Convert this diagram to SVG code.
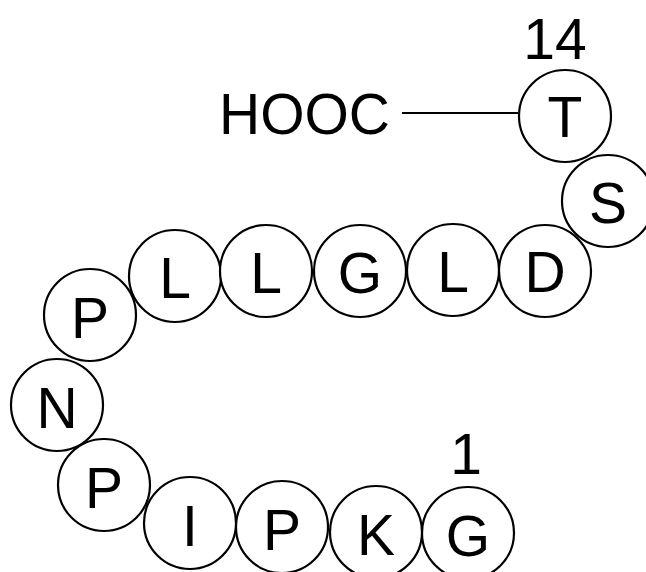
<svg xmlns="http://www.w3.org/2000/svg" width="646" height="572" viewBox="0 0 646 572">
<style>
.res circle{fill:#fff;stroke:#000;stroke-width:2.2}
text{font-family:"Liberation Sans",Arial,sans-serif;font-size:57px;fill:#000}
.res text{text-anchor:middle}
</style>
<rect width="646" height="572" fill="#fff"/>
<g id="connectors">
<line x1="402" y1="113" x2="518" y2="113" stroke="#000" stroke-width="2.2"/>
</g>
<g class="res">
<g id="r1"><circle cx="468" cy="533" r="46"/><text x="468" y="556">G</text></g>
<g id="r2"><circle cx="376" cy="532" r="46"/><text x="376" y="555">K</text></g>
<g id="r3"><circle cx="282" cy="527" r="46"/><text x="282" y="550">P</text></g>
<g id="r4"><circle cx="190" cy="523" r="46"/><text x="190" y="546">I</text></g>
<g id="r5"><circle cx="104" cy="485" r="46"/><text x="104" y="508">P</text></g>
<g id="r6"><circle cx="57" cy="405" r="46"/><text x="57" y="428">N</text></g>
<g id="r7"><circle cx="90" cy="315" r="46"/><text x="90" y="338">P</text></g>
<g id="r8"><circle cx="175" cy="276" r="46"/><text x="175" y="298">L</text></g>
<g id="r9"><circle cx="266" cy="271" r="46"/><text x="266" y="293">L</text></g>
<g id="r10"><circle cx="360" cy="271" r="46"/><text x="360" y="293">G</text></g>
<g id="r11"><circle cx="453" cy="270" r="46"/><text x="453" y="292">L</text></g>
<g id="r12"><circle cx="545" cy="271" r="46"/><text x="545" y="292">D</text></g>
<g id="r13"><circle cx="608" cy="201" r="46"/><text x="608" y="223">S</text></g>
<g id="r14"><circle cx="565" cy="116" r="46"/><text x="565" y="137">T</text></g>
</g>
<g id="labels">
<text x="219" y="134">HOOC</text>
<text x="555" y="59" text-anchor="middle">14</text>
<text x="466" y="474" text-anchor="middle">1</text>
</g>
</svg>
